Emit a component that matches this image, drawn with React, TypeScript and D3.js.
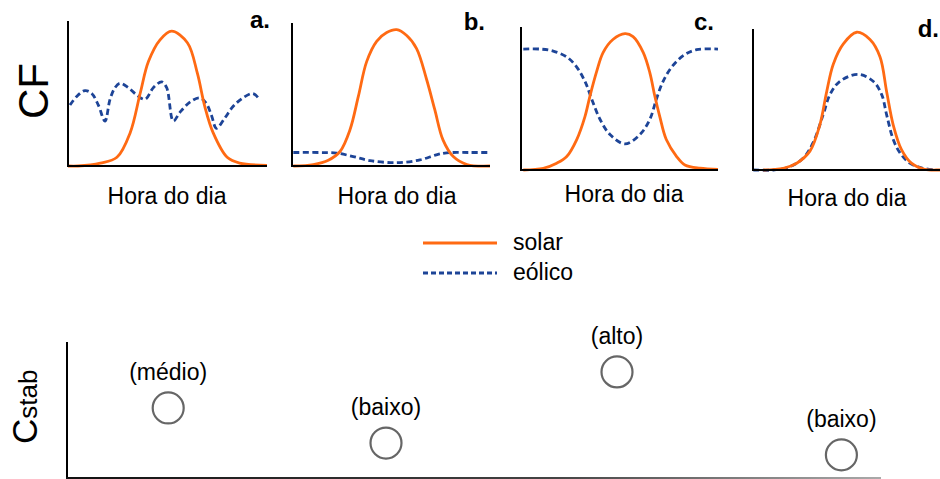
import * as d3 from "d3";

// CF profiles: [hour of day, capacity factor 0..1]
const solarA = [[0, 0], [1.2, 0], [3.9, 0.02], [5.9, 0.06], [7.5, 0.23], [8.7, 0.5], [9.7, 0.72], [11.1, 0.87], [12.5, 0.93], [14.4, 0.85], [15.6, 0.64], [16.5, 0.41], [17.5, 0.23], [19.2, 0.06], [20.7, 0.02], [24, 0.005]];
const windA = [[0.24, 0.42], [1.05, 0.48], [2.05, 0.52], [2.86, 0.5], [3.66, 0.42], [4.46, 0.31], [5.07, 0.46], [5.67, 0.54], [6.27, 0.57], [7.28, 0.54], [8.28, 0.49], [9.29, 0.46], [10.29, 0.54], [11.3, 0.58], [11.9, 0.54], [12.7, 0.31], [13.5, 0.37], [14.7, 0.44], [15.9, 0.47], [16.7, 0.43], [17.3, 0.35], [17.9, 0.26], [18.9, 0.33], [19.9, 0.41], [21.1, 0.47], [22.3, 0.5], [22.95, 0.47]];

const solarB = [[0.16, 0], [2.58, 0.01], [4.4, 0.04], [5.82, 0.1], [7.03, 0.25], [8.04, 0.48], [9.05, 0.72], [10.26, 0.86], [11.48, 0.92], [12.69, 0.94], [13.9, 0.9], [15.1, 0.81], [16.3, 0.6], [17.3, 0.39], [18.3, 0.18], [19.55, 0.065], [21.2, 0.01], [24, 0]];
const windB = [[0.16, 0.093], [3.39, 0.093], [5.4, 0.089], [7.43, 0.065], [9.45, 0.037], [12.7, 0.023], [15.5, 0.042], [17.5, 0.077], [18.75, 0.091], [21.6, 0.093], [24, 0.093]];

const solarC = [[0.28, 0], [2.72, 0.012], [4.35, 0.047], [5.57, 0.093], [6.79, 0.21], [7.8, 0.37], [8.4, 0.51], [9.22, 0.68], [10.0, 0.81], [11.2, 0.9], [12.67, 0.94], [13.65, 0.92], [14.9, 0.81], [15.7, 0.67], [16.3, 0.51], [16.9, 0.37], [17.7, 0.21], [18.96, 0.093], [19.97, 0.035], [21.8, 0.012], [24, 0.005]];
const windC = [[0.28, 0.834], [2.31, 0.834], [3.93, 0.82], [5.57, 0.78], [6.79, 0.71], [7.8, 0.61], [8.61, 0.49], [9.62, 0.35], [10.84, 0.245], [12.67, 0.18], [14.5, 0.245], [15.7, 0.35], [16.5, 0.49], [17.3, 0.61], [18.36, 0.71], [19.8, 0.79], [21.4, 0.83], [24, 0.834]];

const solarD = [[1.25, 0], [3.68, 0.012], [5.3, 0.047], [6.9, 0.13], [8.1, 0.31], [8.93, 0.54], [9.73, 0.73], [10.95, 0.87], [12.57, 0.95], [14.18, 0.9], [15.4, 0.78], [16.2, 0.54], [17.0, 0.31], [18.0, 0.14], [19.2, 0.047], [20.8, 0.005], [22.7, 0], [24, 0]];
const windD = [[0.04, 0], [2.46, 0], [4.48, 0.023], [6.1, 0.083], [7.3, 0.19], [8.5, 0.38], [9.33, 0.52], [10.5, 0.61], [12.76, 0.66], [14.6, 0.61], [15.6, 0.52], [16.2, 0.38], [17.0, 0.21], [17.8, 0.12], [19.0, 0.047], [20.6, 0.012], [22.2, 0]];

const panelLetters = ["a.", "b.", "c.", "d."];
const xLabel = "Hora do dia";
const legendLabels = ["solar", "eólico"];

// stability index of each scenario
const stabLabels = ["(médio)", "(baixo)", "(alto)", "(baixo)"];
const stabX = [0.46, 1.45, 2.5, 3.52];
const stabY = [0.515, 0.257, 0.78, 0.17];

const ORANGE = "#ff6a13";
const BLUE = "#1d4497";
const FONT = "'Liberation Sans', Arial, sans-serif";

// layout of the four small panels (pixels)
const frames = [
  { x0: 68, x1: 267, top: 21, base: 166, solar: solarA, wind: windA, lx: 270, ly: 28, tx: 167, ty: 204 },
  { x0: 292, x1: 490, top: 23, base: 166, solar: solarB, wind: windB, lx: 485, ly: 30, tx: 397, ty: 204 },
  { x0: 521, x1: 718, top: 27, base: 170, solar: solarC, wind: windC, lx: 714, ly: 30, tx: 624, ty: 202 },
  { x0: 753, x1: 951, top: 29, base: 170, solar: solarD, wind: windD, lx: 939, ly: 37, tx: 847, ty: 206 },
];

function Panel({ f, letter }) {
  const x = d3.scaleLinear().domain([0, 24]).range([f.x0, f.x1]);
  const y = d3.scaleLinear().domain([0, 1]).range([f.base, f.base - 145]);
  const line = d3
    .line()
    .x((d) => x(d[0]))
    .y((d) => y(d[1]))
    .curve(d3.curveCatmullRom.alpha(0.5));
  return (
    <g>
      <path d={line(f.wind)} fill="none" stroke={BLUE} strokeWidth={2.8} strokeDasharray="6,3.5" />
      <path d={line(f.solar)} fill="none" stroke={ORANGE} strokeWidth={2.8} />
      <line x1={f.x0} x2={f.x0} y1={f.top} y2={f.base + 1} stroke="#000" strokeWidth={2} />
      <line x1={f.x0 - 1} x2={f.x1} y1={f.base} y2={f.base} stroke="#000" strokeWidth={2} />
      <text x={f.lx} y={f.ly} textAnchor="end" fontSize={24} fontWeight="bold" fontFamily={FONT}>
        {letter}
      </text>
      <text x={f.tx} y={f.ty} textAnchor="middle" fontSize={23} fontFamily={FONT}>
        {xLabel}
      </text>
    </g>
  );
}

export default function App() {
  const sx = d3.scaleLinear().domain([0, 3.7]).range([67, 881]);
  const sy = d3.scaleLinear().domain([0, 1]).range([478, 342]);

  return (
    <svg width={940} height={479} style={{ position: "absolute", left: 0, top: 0, background: "#fff" }}>
      <defs>
        <linearGradient id="axisFade" x1="0" x2="1" y1="0" y2="0">
          <stop offset="0" stopColor="#111" />
          <stop offset="0.6" stopColor="#444" />
          <stop offset="1" stopColor="#aaa" />
        </linearGradient>
      </defs>

      <text transform="translate(48,91) rotate(-90)" textAnchor="middle" fontSize={42} fontFamily={FONT}>
        CF
      </text>

      {frames.map((f, i) => (
        <Panel key={i} f={f} letter={panelLetters[i]} />
      ))}

      {/* legend */}
      <g fontFamily={FONT} fontSize={23}>
        <line x1={423} x2={497} y1={243} y2={243} stroke={ORANGE} strokeWidth={2.8} />
        <text x={513} y={250}>{legendLabels[0]}</text>
        <line x1={423} x2={497} y1={273} y2={273} stroke={BLUE} strokeWidth={2.8} strokeDasharray="5,3" />
        <text x={513} y={280}>{legendLabels[1]}</text>
      </g>

      {/* stability chart */}
      <text transform="translate(37,444) rotate(-90)" fontFamily={FONT}>
        <tspan fontSize={35}>C</tspan>
        <tspan fontSize={26}>stab</tspan>
      </text>
      <line x1={67} x2={67} y1={342} y2={479} stroke="#000" strokeWidth={2} />
      <rect x={66} y={477} width={815} height={2} fill="url(#axisFade)" />
      {stabLabels.map((l, i) => (
        <g key={i}>
          <circle cx={sx(stabX[i])} cy={sy(stabY[i])} r={15.5} fill="none" stroke="#666" strokeWidth={2.2} />
          <text x={sx(stabX[i])} y={sy(stabY[i]) - 28} textAnchor="middle" fontSize={23} fontFamily={FONT}>
            {l}
          </text>
        </g>
      ))}
    </svg>
  );
}
